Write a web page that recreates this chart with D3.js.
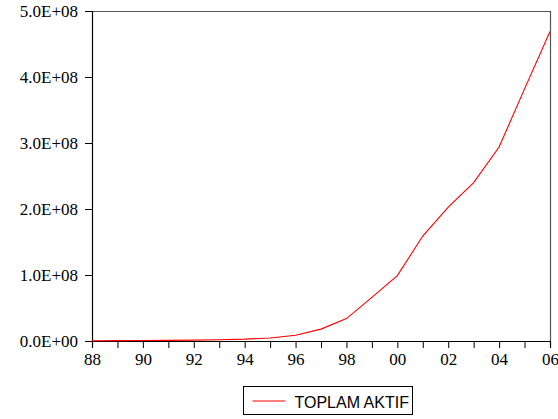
<!DOCTYPE html>
<html>
<head>
<meta charset="utf-8">
<script src="https://cdn.jsdelivr.net/npm/d3@7"></script>
<style>
  html, body { margin: 0; padding: 0; background: #fff; }
  svg { display: block; }
</style>
</head>
<body>
<div id="chart"></div>
<script>
const years = [1988,1989,1990,1991,1992,1993,1994,1995,1996,1997,1998,1999,2000,2001,2002,2003,2004,2005,2006];
const toplamAktif = [0.3e6,0.5e6,0.7e6,1.0e6,1.4e6,2.0e6,2.8e6,4.5e6,8.6e6,18e6,34e6,66e6,99e6,159e6,203e6,240e6,294e6,382e6,469e6];
const yTicks = [0, 1e8, 2e8, 3e8, 4e8, 5e8];
const xLabelYears = [1988,1990,1992,1994,1996,1998,2000,2002,2004,2006];
const seriesName = "TOPLAM AKTIF";

const W = 558, H = 419;
const m = {left: 92, top: 11, right: 8, bottom: 78};
const iw = W - m.left - m.right, ih = H - m.top - m.bottom;
const SERIF = "'Liberation Serif', 'Times New Roman', serif";

const svg = d3.select("#chart").append("svg").attr("width", W).attr("height", H);
const g = svg.append("g").attr("transform", `translate(${m.left},${m.top})`);

const x = d3.scaleLinear().domain([1988, 2006]).range([0, iw]);
const y = d3.scaleLinear().domain([0, 5e8]).range([ih, 0]);

// top and right frame
g.append("path")
  .attr("d", `M0.5,0.5H${iw+0.5}V${ih}`)
  .attr("fill", "none").attr("stroke", "#555").attr("stroke-width", 1.2);

// y axis
const fmt = v => (v/1e8).toFixed(1) + "E+" + (v === 0 ? "00" : "08");
const yAxis = g.append("g")
  .call(d3.axisLeft(y).tickValues(yTicks).tickSize(7).tickPadding(7).tickFormat(fmt));
yAxis.attr("font-family", SERIF).attr("font-size", 17);
yAxis.select(".domain").attr("stroke", "#000").attr("stroke-width", 1.2);
yAxis.selectAll(".tick text")
  .style("font-family", SERIF).style("font-size", "17px").style("fill", "#000");

// x axis
const xAxis = g.append("g").attr("transform", `translate(0,${ih})`)
  .call(d3.axisBottom(x).tickValues(years).tickSize(7).tickPadding(5)
    .tickFormat(d => xLabelYears.includes(d) ? String(d).slice(2) : ""));
xAxis.attr("font-family", SERIF).attr("font-size", 17);
xAxis.select(".domain").attr("stroke", "#000").attr("stroke-width", 1.2);
xAxis.selectAll(".tick text")
  .style("font-family", SERIF).style("font-size", "17px").style("fill", "#000");

// line
const line = d3.line().x((d, i) => x(years[i])).y(d => y(d));
g.append("path").datum(toplamAktif)
  .attr("d", line).attr("fill", "none").attr("stroke", "#ff0000").attr("stroke-width", 1.1);

// legend
const lg = svg.append("g").attr("transform", "translate(243.5,386.5)");
lg.append("rect").attr("width", 169).attr("height", 28)
  .attr("fill", "#fff").attr("stroke", "#000").attr("stroke-width", 1);
lg.append("line").attr("x1", 9).attr("x2", 42).attr("y1", 14.5).attr("y2", 14.5)
  .attr("stroke", "#ff0000").attr("stroke-width", 1.1);
lg.append("text").attr("x", 51).attr("y", 21)
  .style("font-family", "'Liberation Sans', Arial, sans-serif").style("font-size", "16px")
  .style("fill", "#000").text(seriesName);
</script>
</body>
</html>
